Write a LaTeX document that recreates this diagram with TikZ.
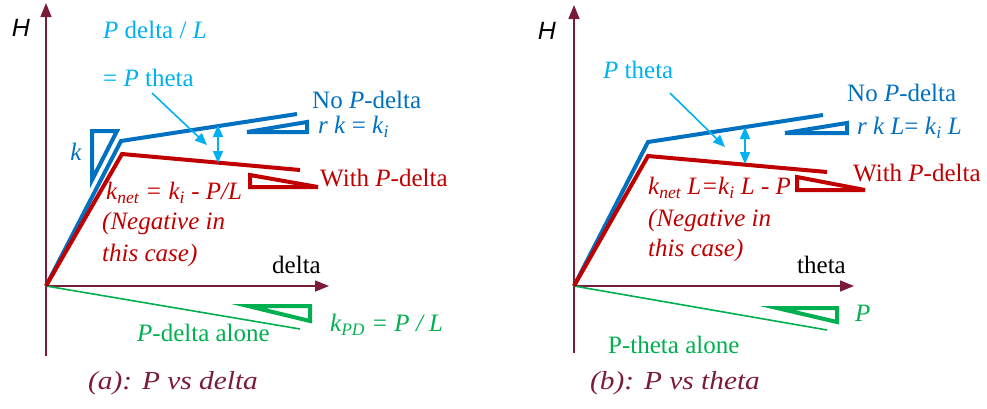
\documentclass[tikz,border=0pt]{standalone}
\usepackage{fontspec}
\setmainfont{Liberation Serif}
\newfontfamily\hfont{Liberation Sans}
\usetikzlibrary{arrows.meta}
\definecolor{axiscol}{RGB}{122,28,56}
\definecolor{nopd}{RGB}{0,112,192}
\definecolor{withpd}{RGB}{192,0,0}
\definecolor{note}{RGB}{0,176,240}
\definecolor{alone}{RGB}{0,176,80}
\tikzset{
  axis/.style={draw=axiscol, line width=1.5pt, -{Triangle[length=14pt,width=11pt]}},
  curve/.style={line width=4pt, line join=miter},
  slope/.style={line width=4pt, line join=miter},
  pointer/.style={note, line width=1.6pt, -{Triangle[length=12pt,width=10pt]}},
  gap/.style={note, line width=1.6pt, {Triangle[length=12pt,width=10pt]}-{Triangle[length=12pt,width=10pt]}},
  lbl/.style={inner sep=0pt, anchor=west, font=\fontsize{25}{28}\selectfont},
  axlbl/.style={inner sep=0pt, font=\hfont\itshape\fontsize{25}{28}\selectfont},
  caption/.style={inner sep=0pt, anchor=west, text=axiscol, font=\itshape\fontsize{26}{29}\selectfont},
}

\begin{document}
\begin{tikzpicture}[x=1pt,y=-1pt]
    \useasboundingbox (0,0) rectangle (987,408);

    % (a) P vs delta
    \coordinate (oa) at (46,286);
    \coordinate (ybota) at (46,356);
    \coordinate (ytopa) at (46,3);
    \coordinate (xenda) at (329,286);
    \coordinate (noka) at (121,141);
    \coordinate (noenda) at (297,114);
    \coordinate (wka) at (122,154);
    \coordinate (wenda) at (300,170);
    \coordinate (greena) at (300,329);
    \coordinate (gtopa) at (218,125);
    \coordinate (gbota) at (218,163);
    \coordinate (ptra) at (152,93);
    \coordinate (ptrenda) at (207,145);

    \draw[axis] (ybota) -- (ytopa);
    \draw[axis] (oa) -- (xenda);
    \draw[alone, line width=1.6pt] (oa) -- (greena);
    \draw[alone, slope] (248,306) -- (310,306) -- (310,321) -- cycle;
    \draw[nopd, curve] (oa) -- (noka) -- (noenda);
    \draw[withpd, curve] (oa) -- (wka) -- (wenda);
    \draw[nopd, slope] (92,131) -- (117,131) -- (92,180) -- cycle;
    \draw[nopd, slope] (247,132) -- (307,132) -- (307,122) -- cycle;
    \draw[withpd, slope] (250,175) -- (250,187) -- (318,187) -- cycle;
    \draw[gap] (gtopa) -- (gbota);
    \draw[pointer] (ptra) -- (ptrenda);

    \node[axlbl] (Ha) at (21,28) {H};
    \node[lbl, text=note] (pdl) at (103,30) {\textit{P} delta / \textit{L}};
    \node[lbl, text=note] (pth) at (103,78) {= \textit{P} theta};
    \node[lbl, text=nopd] (nopda) at (312,100) {No \textit{P}-delta};
    \node[lbl, text=nopd] (rka) at (318,127) {\textit{r k} = \textit{k}\textsubscript{\textit{i}}};
    \node[lbl, text=nopd, anchor=center] (ka) at (76,152) {\textit{k}};
    \node[lbl, text=withpd] (wpda) at (320,178) {With \textit{P}-delta};
    \node[lbl, text=withpd, font=\itshape\fontsize{25}{28}\selectfont] (kneta) at (106,193) {k\textsubscript{net} = k\textsubscript{i} - P/L};
    \node[lbl, text=withpd, font=\itshape\fontsize{25}{28}\selectfont] (nega) at (102,223) {(Negative in};
    \node[lbl, text=withpd, font=\itshape\fontsize{25}{28}\selectfont] (casea) at (102,255) {this case)};
    \node[lbl] (delta) at (272,265) {delta};
    \node[lbl, text=alone] (alonea) at (137,333) {\textit{P}-delta alone};
    \node[lbl, text=alone, font=\itshape\fontsize{25}{28}\selectfont] (kpd) at (330,325) {k\textsubscript{PD} = P / L};
    \node[caption] (capa) at (88,383) {\scalebox{1.13}[1]{(a): P vs delta}};

    % (b) P vs theta
    \coordinate (ob) at (574,286);
    \coordinate (ybotb) at (574,353);
    \coordinate (ytopb) at (574,5);
    \coordinate (xendb) at (854,286);
    \coordinate (nokb) at (648,142);
    \coordinate (noendb) at (823,115);
    \coordinate (wkb) at (648,156);
    \coordinate (wendb) at (827,172);
    \coordinate (greenb) at (827,330);
    \coordinate (gtopb) at (745,127);
    \coordinate (gbotb) at (745,164);
    \coordinate (ptrb) at (670,93);
    \coordinate (ptrendb) at (725,147);

    \draw[axis] (ybotb) -- (ytopb);
    \draw[axis] (ob) -- (xendb);
    \draw[alone, line width=1.6pt] (ob) -- (greenb);
    \draw[alone, slope] (777,308) -- (837,308) -- (837,322) -- cycle;
    \draw[nopd, curve] (ob) -- (nokb) -- (noendb);
    \draw[withpd, curve] (ob) -- (wkb) -- (wendb);
    \draw[nopd, slope] (785,133) -- (847,133) -- (847,123) -- cycle;
    \draw[withpd, slope] (797,177) -- (797,190) -- (865,190) -- cycle;
    \draw[gap] (gtopb) -- (gbotb);
    \draw[pointer] (ptrb) -- (ptrendb);

    \node[axlbl] (Hb) at (547,31) {H};
    \node[lbl, text=note] (pthb) at (603,70) {\textit{P} theta};
    \node[lbl, text=nopd] (nopdb) at (847,93) {No \textit{P}-delta};
    \node[lbl, text=nopd] (rkb) at (857,128) {\textit{r k L}= \textit{k}\textsubscript{\textit{i}} \textit{L}};
    \node[lbl, text=withpd] (wpdb) at (853,173) {With \textit{P}-delta};
    \node[lbl, text=withpd, font=\itshape\fontsize{25}{28}\selectfont] (knetb) at (648,188) {k\textsubscript{net} L=k\textsubscript{i} L - P};
    \node[lbl, text=withpd, font=\itshape\fontsize{25}{28}\selectfont] (negb) at (648,220) {(Negative in};
    \node[lbl, text=withpd, font=\itshape\fontsize{25}{28}\selectfont] (caseb) at (648,250) {this case)};
    \node[lbl] (theta) at (797,265) {theta};
    \node[lbl, text=alone, font=\itshape\fontsize{25}{28}\selectfont] (pb) at (855,313) {P};
    \node[lbl, text=alone] (aloneb) at (608,345) {P-theta alone};
    \node[caption] (capb) at (590,383) {\scalebox{1.13}[1]{(b): P vs theta}};
\end{tikzpicture}
\end{document}
